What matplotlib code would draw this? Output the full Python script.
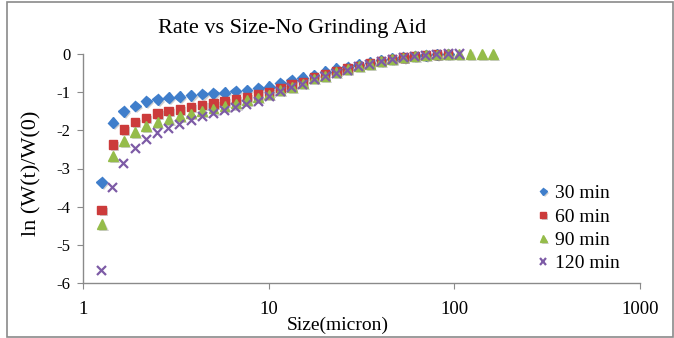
import matplotlib
matplotlib.use("Agg")
import matplotlib.pyplot as plt
import matplotlib.patheffects as pe
from matplotlib.patches import Rectangle

# particle size (micron)
size = [1.26, 1.45, 1.66, 1.91, 2.19, 2.52, 2.89, 3.32, 3.82, 4.39,
        5.04, 5.79, 6.65, 7.64, 8.78, 10.08, 11.58, 13.30, 15.28, 17.55,
        20.16, 23.16, 26.60, 30.56, 35.10, 40.32, 46.32, 53.20, 61.11, 70.20,
        80.64, 92.63, 106.4, 122.2, 140.4, 161.3]

ln_30 = [-3.36, -1.80, -1.50, -1.36, -1.24, -1.19, -1.15, -1.12, -1.08, -1.05,
         -1.03, -1.01, -0.97, -0.95, -0.90, -0.86, -0.77, -0.68, -0.62, -0.55,
         -0.46, -0.39, -0.34, -0.28, -0.23, -0.17, -0.12, -0.08, -0.05, -0.03,
         -0.01, 0.00]
ln_60 = [-4.09, -2.37, -1.98, -1.78, -1.67, -1.56, -1.49, -1.45, -1.39, -1.33,
         -1.30, -1.24, -1.19, -1.12, -1.06, -1.00, -0.89, -0.80, -0.73, -0.61,
         -0.53, -0.45, -0.38, -0.31, -0.25, -0.18, -0.13, -0.09, -0.05, -0.03,
         -0.01, 0.00]
ln_90 = [-4.46, -2.68, -2.28, -2.04, -1.89, -1.78, -1.71, -1.63, -1.56, -1.49,
         -1.43, -1.37, -1.30, -1.21, -1.14, -1.06, -0.95, -0.86, -0.77, -0.64,
         -0.57, -0.48, -0.40, -0.32, -0.26, -0.19, -0.14, -0.09, -0.06, -0.03,
         -0.01, 0.00, 0.00, 0.00, 0.00, 0.00]
ln_120 = [-5.67, -3.49, -2.86, -2.48, -2.25, -2.07, -1.96, -1.84, -1.74, -1.65,
          -1.56, -1.49, -1.41, -1.32, -1.24, -1.12, -0.99, -0.89, -0.79, -0.67,
          -0.60, -0.51, -0.42, -0.34, -0.27, -0.20, -0.14, -0.10, -0.06, -0.03,
          -0.01, 0.00, 0.00]

labels = ["30 min", "60 min", "90 min", "120 min"]
W, H = 674, 338
serif = "Liberation Serif"

fig = plt.figure(figsize=(W / 100, H / 100), dpi=100)
fig.patches.append(Rectangle((7 / W, 1 / H), 666 / W, 335 / H, transform=fig.transFigure,
                             fill=False, edgecolor="#8a8a8a", linewidth=1.2))

ax = fig.add_axes([83 / W, (H - 283) / H, (640 - 83) / W, (283 - 54) / H])
ax.set_xscale("log")
ax.set_xlim(1, 1000)
ax.set_ylim(-6, 0)

shadow = [pe.SimplePatchShadow(offset=(1.5, -1.5), alpha=0.35, shadow_rgbFace="#777777"), pe.Normal()]

ax.plot(size[:len(ln_30)], ln_30, "D", color="#3F7ECB", ms=5.5, mec="#3F7ECB",
        label=labels[0], clip_on=False, path_effects=shadow, zorder=3)
ax.plot(size[:len(ln_60)], ln_60, "s", color="#CC3B3B", ms=6, mec="#CC3B3B",
        label=labels[1], clip_on=False, path_effects=shadow, zorder=3)
ax.plot(size[:len(ln_90)], ln_90, "^", color="#95BC4A", ms=7, mec="#95BC4A",
        label=labels[2], clip_on=False, path_effects=shadow, zorder=3)
ax.plot(size[:len(ln_120)], ln_120, "x", color="#7D5BA6", ms=6.5, mew=1.6,
        label=labels[3], clip_on=False, path_effects=shadow, zorder=3)

for s in ["top", "right"]:
    ax.spines[s].set_visible(False)
for s in ["left", "bottom"]:
    ax.spines[s].set_color("#8a8a8a")
    ax.spines[s].set_linewidth(1.0)

ax.set_yticks([0, -1, -2, -3, -4, -5, -6])
ax.set_yticklabels(["0", "-1", "-2", "-3", "-4", "-5", "-6"], family=serif, fontsize=12)
ax.set_xticks([1, 10, 100, 1000])
ax.set_xticklabels(["1", "10", "100", "1000"], family=serif, fontsize=13.5)
ax.minorticks_off()
ax.tick_params(axis="y", direction="out", length=4, color="#8a8a8a", pad=5)
ax.tick_params(axis="x", direction="out", length=4, color="#8a8a8a", pad=9)

fig.text(32 / W, 1 - 173 / H, "ln (W(t)/W(0)", rotation=90, ha="center", va="center",
         family=serif, fontsize=16)
fig.text(337.5 / W, 1 - 325 / H, "Size(micron)", ha="center", va="center",
         family=serif, fontsize=14)
fig.text(292 / W, 1 - 28 / H, "Rate vs Size-No Grinding Aid", ha="center", va="center",
         family=serif, fontsize=16)

ax.legend(loc="upper left", bbox_to_anchor=(519 / W, 1 - 167 / H), bbox_transform=fig.transFigure,
          frameon=False, markerscale=0.7, handlelength=0.7, handletextpad=0.25,
          labelspacing=0.3, prop={"family": serif, "size": 14})

fig.savefig("out.png", dpi=100)
